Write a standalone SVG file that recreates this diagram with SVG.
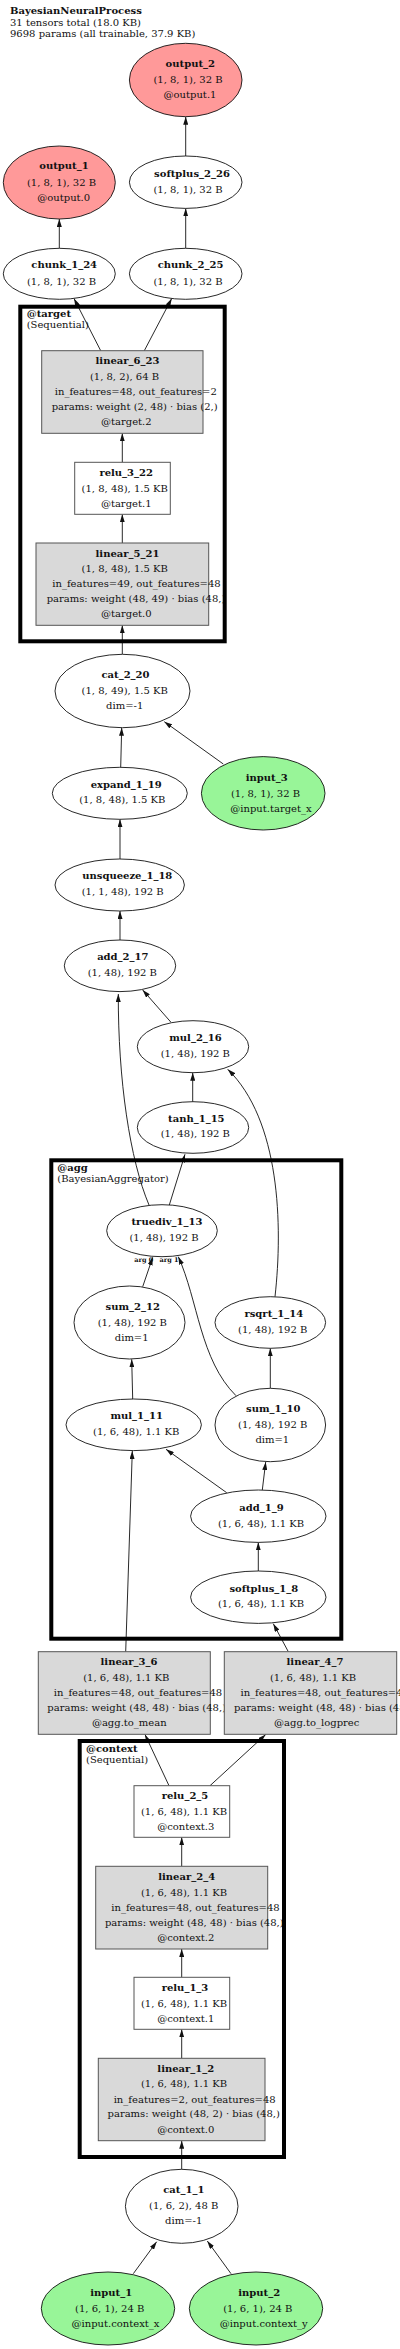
<svg xmlns="http://www.w3.org/2000/svg" width="400" height="2349" viewBox="0 0 400 2349">
<style>
text{font-family:"DejaVu Serif","Liberation Serif",serif;font-size:10px;fill:#111;text-anchor:middle}
.b{font-weight:bold}
.l{text-anchor:start}
.arg{font-size:6.5px;font-weight:bold}
.el{fill:#fff;stroke:#111;stroke-width:0.9}
.out{fill:#ff9999;stroke:#111;stroke-width:0.9}
.in{fill:#98f598;stroke:#111;stroke-width:0.9}
.box{fill:#fff;stroke:#555;stroke-width:1}
.lin{fill:#d9d9d9;stroke:#555;stroke-width:1}
.cl{fill:none;stroke:#000;stroke-width:4}
.e{fill:none;stroke:#111;stroke-width:0.9;marker-end:url(#ah)}
</style>
<defs>
<marker id="ah" markerWidth="8" markerHeight="5" refX="8" refY="2.5" orient="auto" markerUnits="userSpaceOnUse"><path d="M0,0 L8,2.5 L0,5 z" fill="#111"/></marker>
</defs>
<rect width="400" height="2349" fill="#fff"/>
<g id="title">
<text class="b l" x="10" y="14">BayesianNeuralProcess</text>
<text class="l" x="10" y="25.5">31 tensors total (18.0 KB)</text>
<text class="l" x="10" y="36.5">9698 params (all trainable, 37.9 KB)</text>
</g>
<g id="connectors">
<path class="e" d="M59.3,248.3 L59.3,219"/>
<path class="e" d="M185.7,248.3 L185.7,208.3"/>
<path class="e" d="M185.7,156 L185.7,116.7"/>
<path class="e" d="M100.7,350.7 L74,298.5"/>
<path class="e" d="M144.3,350.7 L171.7,298.5"/>
<path class="e" d="M122.3,462.3 L122.3,433.3"/>
<path class="e" d="M122.3,543 L122.3,514.3"/>
<path class="e" d="M122.3,654.3 L122.3,625.3"/>
<path class="e" d="M223.3,764 L164.3,721.7"/>
<path class="e" d="M120.7,767.3 L121.7,727.7"/>
<path class="e" d="M120,859 L120,819.3"/>
<path class="e" d="M120,940 L120,911"/>
<path class="e" d="M171,1022.3 L142.7,990"/>
<path class="e" d="M192.7,1101.7 L192.7,1072.7"/>
<path class="e" d="M169.3,1205 L185,1154.3"/>
<path class="e" d="M149,1205 C130,1160 118,1080 118.3,994"/>
<path class="e" d="M275,1296.7 C283,1225 280,1120 227.7,1069.3"/>
<path class="e" d="M142.7,1286.7 L152.7,1257.3"/>
<path class="e" d="M236,1395.7 C200,1360 198,1300 178.3,1256.7"/>
<path class="e" d="M270.3,1388.3 L270.3,1348.3"/>
<path class="e" d="M132.7,1399 L131.7,1359.3"/>
<path class="e" d="M226.7,1492.7 L166,1449.3"/>
<path class="e" d="M262.3,1490 L265.7,1462"/>
<path class="e" d="M125.7,1651.7 L132.3,1451"/>
<path class="e" d="M258.3,1571 L258.3,1542.3"/>
<path class="e" d="M288.3,1651.7 L273.3,1623.7"/>
<path class="e" d="M169,1785.7 L145,1734.5"/>
<path class="e" d="M210,1785.7 L265.7,1734.5"/>
<path class="e" d="M181.7,1866.3 L181.7,1837.3"/>
<path class="e" d="M181.7,1977.3 L181.7,1949"/>
<path class="e" d="M181.7,2058.3 L181.7,2029.3"/>
<path class="e" d="M181.7,2169.3 L181.7,2140.7"/>
<path class="e" d="M133.3,2273.7 L156.7,2241.7"/>
<path class="e" d="M231,2273.7 L207.3,2241"/>
</g>
<g id="output_2">
<ellipse class="out" cx="185.7" cy="80" rx="56.3" ry="36.7"/>
<text class="b" x="190.3" y="66.7">output_2</text>
<text x="188" y="83.3">(1, 8, 1), 32 B</text>
<text x="190" y="98.3">@output.1</text>
</g>
<g id="output_1">
<ellipse class="out" cx="59.3" cy="182.5" rx="56" ry="36.5"/>
<text class="b" x="64" y="169.3">output_1</text>
<text x="61.5" y="185.7">(1, 8, 1), 32 B</text>
<text x="63.7" y="200.7">@output.0</text>
</g>
<g id="softplus_2_26">
<ellipse class="el" cx="185.7" cy="182.2" rx="56.3" ry="26.2"/>
<text class="b" x="192" y="176.7">softplus_2_26</text>
<text x="188" y="192.7">(1, 8, 1), 32 B</text>
</g>
<g id="chunk_1_24">
<ellipse class="el" cx="59.3" cy="273.8" rx="56" ry="25.5"/>
<text class="b" x="64.2" y="268.3">chunk_1_24</text>
<text x="61.5" y="284.7">(1, 8, 1), 32 B</text>
</g>
<g id="chunk_2_25">
<ellipse class="el" cx="185.7" cy="273.8" rx="56.3" ry="25.5"/>
<text class="b" x="190.5" y="268.3">chunk_2_25</text>
<text x="188" y="284.7">(1, 8, 1), 32 B</text>
</g>
<g id="linear_6_23">
<rect class="lin" x="41.7" y="350.7" width="161.3" height="82.6"/>
<text class="b" x="127.5" y="364">linear_6_23</text>
<text x="124.5" y="379.5">(1, 8, 2), 64 B</text>
<text x="135.8" y="395">in_features=48, out_features=2</text>
<text x="134.7" y="410">params: weight (2, 48) · bias (2,)</text>
<text x="126.3" y="425">@target.2</text>
</g>
<g id="relu_3_22">
<rect class="box" x="74.7" y="462.3" width="95.6" height="52"/>
<text class="b" x="126.2" y="475.7">relu_3_22</text>
<text x="124.7" y="491.7">(1, 8, 48), 1.5 KB</text>
<text x="126.2" y="506.7">@target.1</text>
</g>
<g id="linear_5_21">
<rect class="lin" x="36" y="543" width="172.7" height="82.3"/>
<text class="b" x="127.5" y="556.7">linear_5_21</text>
<text x="124.7" y="572.3">(1, 8, 48), 1.5 KB</text>
<text x="136.5" y="587.3">in_features=49, out_features=48</text>
<text x="136" y="602.3">params: weight (48, 49) · bias (48,)</text>
<text x="126.3" y="617">@target.0</text>
</g>
<g id="cluster_target">
<rect class="cl" x="20.3" y="306.7" width="204.4" height="334.6"/>
<text class="b l" x="26.7" y="317.3">@target</text>
<text class="l" x="26.7" y="328">(Sequential)</text>
</g>
<g id="cat_2_20">
<ellipse class="el" cx="122.5" cy="691" rx="67.5" ry="36.7"/>
<text class="b" x="125.5" y="678.3">cat_2_20</text>
<text x="124.7" y="694">(1, 8, 49), 1.5 KB</text>
<text x="124.7" y="709.3">dim=-1</text>
</g>
<g id="input_3">
<ellipse class="in" cx="263.2" cy="793.3" rx="61.8" ry="36.7"/>
<text class="b" x="266.7" y="780.7">input_3</text>
<text x="265.5" y="796.7">(1, 8, 1), 32 B</text>
<text x="271" y="811.7">@input.target_x</text>
</g>
<g id="expand_1_19">
<ellipse class="el" cx="119.8" cy="793.3" rx="67.5" ry="26"/>
<text class="b" x="126.2" y="787.7">expand_1_19</text>
<text x="122.3" y="803.3">(1, 8, 48), 1.5 KB</text>
</g>
<g id="unsqueeze_1_18">
<ellipse class="el" cx="119.7" cy="885" rx="64.7" ry="26"/>
<text class="b" x="127.3" y="879.3">unsqueeze_1_18</text>
<text x="122.7" y="895">(1, 1, 48), 192 B</text>
</g>
<g id="add_2_17">
<ellipse class="el" cx="120" cy="965.8" rx="55.7" ry="25.8"/>
<text class="b" x="122.8" y="960">add_2_17</text>
<text x="122.3" y="976">(1, 48), 192 B</text>
</g>
<g id="mul_2_16">
<ellipse class="el" cx="193" cy="1046.7" rx="55.7" ry="26"/>
<text class="b" x="195.5" y="1040.7">mul_2_16</text>
<text x="195.3" y="1056.7">(1, 48), 192 B</text>
</g>
<g id="tanh_1_15">
<ellipse class="el" cx="193" cy="1127.5" rx="55.7" ry="25.8"/>
<text class="b" x="196.3" y="1121.7">tanh_1_15</text>
<text x="195.3" y="1137.3">(1, 48), 192 B</text>
</g>
<g id="truediv_1_13">
<ellipse class="el" cx="162" cy="1230.7" rx="55.3" ry="26"/>
<text class="b" x="167" y="1225">truediv_1_13</text>
<text x="164" y="1240.7">(1, 48), 192 B</text>
</g>
<g id="arg_labels">
<text class="arg" x="143.8" y="1262">arg 0</text>
<text class="arg" x="169" y="1262">arg 1</text>
</g>
<g id="sum_2_12">
<ellipse class="el" cx="129.5" cy="1322.5" rx="55.5" ry="36.5"/>
<text class="b" x="132.7" y="1310">sum_2_12</text>
<text x="132.3" y="1326">(1, 48), 192 B</text>
<text x="131.7" y="1340.7">dim=1</text>
</g>
<g id="rsqrt_1_14">
<ellipse class="el" cx="270.3" cy="1322.5" rx="55.3" ry="25.8"/>
<text class="b" x="273.8" y="1316.7">rsqrt_1_14</text>
<text x="272.7" y="1332.7">(1, 48), 192 B</text>
</g>
<g id="mul_1_11">
<ellipse class="el" cx="133.7" cy="1424.8" rx="67.7" ry="25.8"/>
<text class="b" x="136.7" y="1419">mul_1_11</text>
<text x="136.2" y="1435">(1, 6, 48), 1.1 KB</text>
</g>
<g id="sum_1_10">
<ellipse class="el" cx="270.3" cy="1425" rx="55.3" ry="36.7"/>
<text class="b" x="273.2" y="1412.3">sum_1_10</text>
<text x="272.7" y="1428.3">(1, 48), 192 B</text>
<text x="272.3" y="1443.3">dim=1</text>
</g>
<g id="add_1_9">
<ellipse class="el" cx="258.3" cy="1516.2" rx="67.7" ry="26.2"/>
<text class="b" x="261.5" y="1510.7">add_1_9</text>
<text x="261" y="1526.7">(1, 6, 48), 1.1 KB</text>
</g>
<g id="softplus_1_8">
<ellipse class="el" cx="258.3" cy="1597.2" rx="67.7" ry="26.2"/>
<text class="b" x="263.8" y="1591.7">softplus_1_8</text>
<text x="261" y="1607.3">(1, 6, 48), 1.1 KB</text>
</g>
<g id="cluster_agg">
<rect class="cl" x="51.3" y="1160.3" width="290" height="478.4"/>
<text class="b l" x="57.3" y="1170.7">@agg</text>
<text class="l" x="57.3" y="1181.7">(BayesianAggregator)</text>
</g>
<g id="linear_3_6">
<rect class="lin" x="38.3" y="1651.7" width="172" height="82.6"/>
<text class="b" x="129" y="1665">linear_3_6</text>
<text x="126.3" y="1680.7">(1, 6, 48), 1.1 KB</text>
<text x="138" y="1696">in_features=48, out_features=48</text>
<text x="136.7" y="1710.7">params: weight (48, 48) · bias (48,)</text>
<text x="129.3" y="1726">@agg.to_mean</text>
</g>
<g id="linear_4_7">
<rect class="lin" x="224.3" y="1651.7" width="172.4" height="82.6"/>
<text class="b" x="315" y="1665">linear_4_7</text>
<text x="313" y="1680.7">(1, 6, 48), 1.1 KB</text>
<text x="324.7" y="1696">in_features=48, out_features=48</text>
<text x="323.3" y="1710.7">params: weight (48, 48) · bias (48,)</text>
<text x="316.7" y="1726">@agg.to_logprec</text>
</g>
<g id="relu_2_5">
<rect class="box" x="134" y="1785.7" width="95.7" height="51.6"/>
<text class="b" x="185" y="1799">relu_2_5</text>
<text x="184" y="1815">(1, 6, 48), 1.1 KB</text>
<text x="185.8" y="1830">@context.3</text>
</g>
<g id="linear_2_4">
<rect class="lin" x="95.7" y="1866.3" width="172" height="82.7"/>
<text class="b" x="186.7" y="1880">linear_2_4</text>
<text x="184" y="1895.7">(1, 6, 48), 1.1 KB</text>
<text x="195.5" y="1910.7">in_features=48, out_features=48</text>
<text x="194.3" y="1925.7">params: weight (48, 48) · bias (48,)</text>
<text x="185.8" y="1940.7">@context.2</text>
</g>
<g id="relu_1_3">
<rect class="box" x="134" y="1977.3" width="95.7" height="52"/>
<text class="b" x="185" y="1990.7">relu_1_3</text>
<text x="184" y="2006.7">(1, 6, 48), 1.1 KB</text>
<text x="185.8" y="2021.7">@context.1</text>
</g>
<g id="linear_1_2">
<rect class="lin" x="98.3" y="2058.3" width="166.7" height="82.4"/>
<text class="b" x="185.8" y="2071.7">linear_1_2</text>
<text x="184" y="2087.3">(1, 6, 48), 1.1 KB</text>
<text x="194.7" y="2102.7">in_features=2, out_features=48</text>
<text x="193.7" y="2117.3">params: weight (48, 2) · bias (48,)</text>
<text x="185.8" y="2132.7">@context.0</text>
</g>
<g id="cluster_context">
<rect class="cl" x="79.7" y="1741" width="204.3" height="416"/>
<text class="b l" x="86" y="1751.7">@context</text>
<text class="l" x="86" y="1762.7">(Sequential)</text>
</g>
<g id="cat_1_1">
<ellipse class="el" cx="181.7" cy="2206.3" rx="56.3" ry="37"/>
<text class="b" x="183.8" y="2193.3">cat_1_1</text>
<text x="183.7" y="2209.3">(1, 6, 2), 48 B</text>
<text x="183.7" y="2224.3">dim=-1</text>
</g>
<g id="input_1">
<ellipse class="in" cx="108" cy="2308.5" rx="66.7" ry="36.5"/>
<text class="b" x="111.2" y="2296">input_1</text>
<text x="109.7" y="2311.7">(1, 6, 1), 24 B</text>
<text x="115.5" y="2326.7">@input.context_x</text>
</g>
<g id="input_2">
<ellipse class="in" cx="256" cy="2308.5" rx="66.7" ry="36.5"/>
<text class="b" x="259.2" y="2296">input_2</text>
<text x="257.8" y="2311.7">(1, 6, 1), 24 B</text>
<text x="263.7" y="2326.7">@input.context_y</text>
</g>
</svg>
